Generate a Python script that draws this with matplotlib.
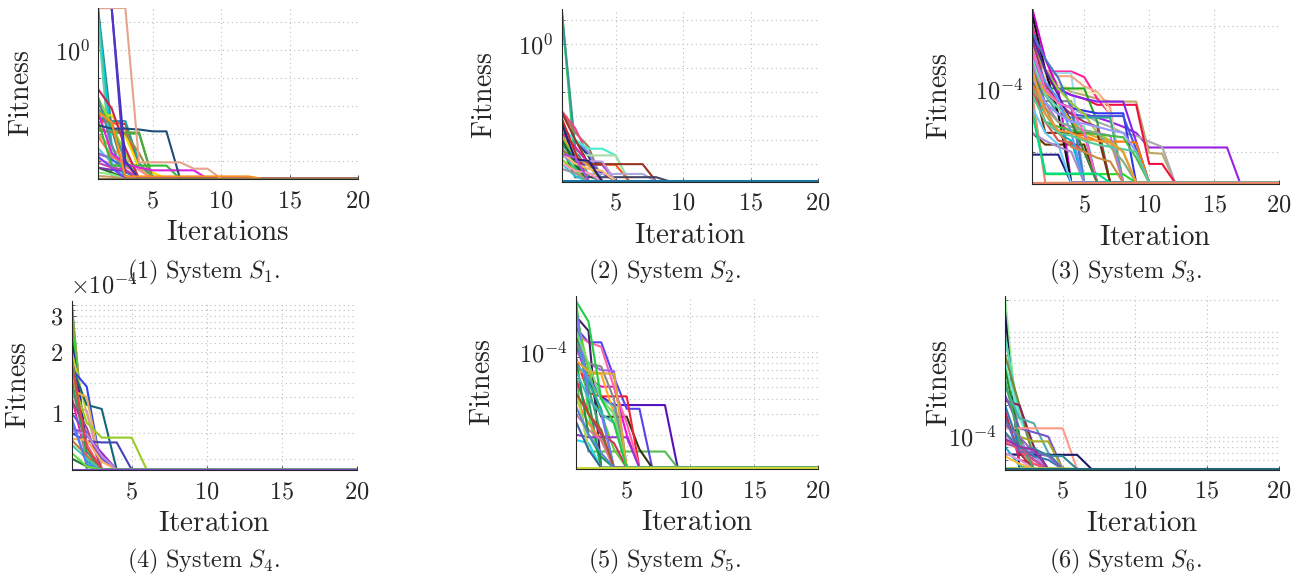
import matplotlib
matplotlib.use('Agg')
import matplotlib.pyplot as plt
from matplotlib.ticker import FixedLocator, FixedFormatter, NullFormatter

plt.rcParams['mathtext.fontset'] = 'cm'
plt.rcParams['font.family'] = ['DejaVu Serif']

# ---------------- data ----------------
iterations = list(range(1, 21))
x_ticks = [5, 10, 15, 20]
x_tick_labels = [r'$5$', r'$10$', r'$15$', r'$20$']

# System S1
F1 = 2.4e-5
s1_traces = [
    [30, 6e-5, F1], [25, 2e-4, 4e-5, F1], [32, 1.5e-3, 3e-5, F1], [20, 4e-4, F1],
    [12, 3e-5, F1], [0.012, 2.5e-3, 1e-4, F1], [3.5e-3, 2.5e-3, 2.2e-3, 6e-5, F1],
    [2.6e-3, 2.6e-3, 1.5e-3, 5e-5, F1], [4.5e-3, 4.5e-3, 8e-4, 6e-5, 4e-5, F1],
    [4e-3, 2.8e-3, 2.8e-3, 9e-5, F1], [1.3e-3, 1.1e-3, 1.1e-3, 1.1e-3, F1],
    [0.018, 1.5e-3, 1.0e-3, 1.0e-3, F1], [1.5e-3, 1.1e-3, 1.0e-3, 2e-4, F1],
    [2e-4, 1.2e-4, 5e-5, F1], [1.2e-4, 8e-5, 6e-5, 5e-5, F1], [3e-4, 9e-5, F1],
    [1.8e-4, 1.4e-4, 1.1e-4, F1], [6e-5, 4e-5, F1], [0.02, 2e-3, 2e-4, F1],
    [1e-3, 3e-4, 1.2e-4, 6e-5, F1], [6e-5, 5e-5, 4.5e-5, F1], [0.02, 4e-4, F1],
    [0.04, 8e-3, 3e-4, F1], [8e-3, 2e-3, 1e-4, F1], [4e-5, 3.5e-5, F1],
    [1.5e-4, 6e-5, F1], [3e-5, 2.8e-5, F1], [8e-4, 1.5e-4, 8e-5, F1],
    [9e-5, 6e-5, 5e-5, F1], [3e-3, 7.1e-5, 7.1e-5, 7.1e-5, 7.1e-5, 7.1e-5, F1],
    [6e-3, 2e-4, 8e-5, 6e-5, 4.8e-5, 4.8e-5, 4.8e-5, 4.8e-5, F1],
    [2e-3, 1.5e-3, 1.5e-3, 1.4e-3, 1.2e-3, 1.2e-3, F1],
    [32, 32, 1e-4, F1], [32, 32, F1],
    [32, 32, 32, 9.3e-5, 9.3e-5, 9.3e-5, 9.3e-5, 5.5e-5, 5.5e-5, F1],
    [6e-3, 2.5e-3, 2.9e-5, 2.9e-5, 2.9e-5, 2.9e-5, 2.9e-5, 2.9e-5, 2.9e-5, 2.9e-5, 2.9e-5, 2.9e-5, F1],
    [F1],
]
s1_colors = [
    '#7F7F7F', '#3FBFBF', '#2E8B8B', '#00CED1', '#66CDAA', '#AA2255', '#DD3322',
    '#EE6633', '#EEE000', '#20A0A0', '#77A030', '#44AA44', '#998844', '#3366EE',
    '#FF88AA', '#66BBEE', '#9966DD', '#226622', '#99DD33', '#DDAA55', '#7733AA',
    '#5588AA', '#CC2255', '#44AA77', '#88EE88', '#6644FF', '#CC9966', '#FF7755',
    '#BB44BB', '#33BB33', '#DD22DD', '#1F4E79', '#3333AA', '#5533CC', '#E6A48C',
    '#FF8C1A', '#8A7D45',
]

# System S2
F2 = 1.8e-6
s2_traces = [
    [30, 2e-5, F2], [28, 8e-6, F2], [25, 5e-5, 3e-6, F2], [1.4e-3, 2e-4, 5e-5, F2],
    [1.6e-3, 3e-4, 2e-5, F2], [4.8e-4, 1.2e-5, 1.15e-5, 1.15e-5, F2],
    [2.9e-4, 1e-4, 2e-5, F2], [3e-4, 1e-4, 3e-5, F2], [3e-5, 1e-5, 9e-6, 9e-6, F2],
    [4e-5, 1.2e-5, 1e-5, 4e-6, F2], [3e-4, 1e-4, 4.2e-5, 4.2e-5, 2.2e-5, F2],
    [1e-4, 3e-5, 2.2e-5, 2.2e-5, 2.2e-5, F2], [6e-5, 2e-5, 1e-5, 9e-6, 9e-6, F2],
    [1.4e-3, 1e-4, 9.5e-6, 9.5e-6, 9.5e-6, 9.5e-6, 9.5e-6, F2],
    [8e-5, 1e-5, 3.7e-6, 3.7e-6, 3.7e-6, 3.7e-6, 3.7e-6, F2],
    [5e-5, 2.7e-6, 2.7e-6, 2.7e-6, 2.7e-6, 2.7e-6, 2.7e-6, 2.7e-6, F2],
    [2e-4, 8e-6, F2], [1e-4, 2e-5, F2], [3e-5, 6e-6, F2], [1.5e-5, 5e-6, F2],
    [2e-4, 5e-5, 1e-5, F2], [6e-5, 2e-5, F2], [1.5e-4, 2e-5, 8e-6, F2],
    [8e-4, 3e-5, F2], [1e-5, 3e-6, F2], [4e-5, 1.5e-5, 1.2e-5, F2],
    [2e-5, 1.4e-5, 1.3e-5, 1.2e-5, F2], [1e-4, 1e-5, F2],
    [3e-5, 1e-5, 6e-6, 5e-6, F2], [6e-6, 4e-6, F2], [1e-5, 5e-6, 4e-6, F2],
    [5e-4, 1.5e-5, 1.3e-5, F2], [2.5e-5, 1.8e-5, F2], [F2],
]
s2_colors = [
    '#BBDD33', '#33CC66', '#339999', '#AA7755', '#EE4488', '#1A1A55', '#223388',
    '#7799EE', '#9933CC', '#6633CC', '#44EECC', '#AADDAA', '#FF5511', '#993322',
    '#AAAADD', '#444466', '#22AA22', '#66BB44', '#44BB88', '#88CC22', '#DD22AA',
    '#2299AA', '#CCAA33', '#CC2222', '#22CCDD', '#888833', '#BB99DD', '#116633',
    '#FFBB66', '#999999', '#FF99BB', '#222277', '#AA55DD', '#1F77A4',
]

# System S3
F3 = 3.2e-6
s3_traces = [
    [1.2e-4, 8e-5, 6e-5, 5e-5, 4e-5, 3.5e-5, 3e-5, 2.5e-5, 2e-5, 1.17e-5, 1.17e-5, 1.17e-5, 1.17e-5, 1.17e-5, 1.17e-5, 1.17e-5, F3],
    [3e-4, 2e-4, 1.2e-4, 9e-5, 8e-5, 7e-5, 6.3e-5, 6.3e-5, 6.3e-5, 9.6e-6, 9.3e-6, F3],
    [2e-4, 1e-4, 6e-5, 5e-5, 4e-5, 3e-5, 2.5e-5, 2e-5, 1.8e-5, 1.45e-5, 1.2e-5, F3],
    [2.5e-4, 1.5e-4, 1e-4, 8e-5, 7e-5, 5.6e-5, 5.6e-5, 5.6e-5, 5.6e-5, 6.4e-6, 6.4e-6, F3],
    [1e-3, 1.9e-4, 1.9e-4, 1.9e-4, 1.55e-4, 7e-5, 4e-5, F3],
    [7e-4, 1.8e-4, 1.8e-4, 1.8e-4, F3],
    [4e-4, 2e-4, 1.6e-4, 1.6e-4, 1.1e-4, 9e-5, 5e-5, F3],
    [3e-4, 1.5e-4, 1.2e-4, 1e-4, 9e-5, 8.5e-5, 4e-5, F3],
    [1.5e-4, 1.02e-4, 1.02e-4, 1.02e-4, 1.02e-4, 3e-5, F3],
    [5e-4, 2e-4, 1e-4, 8e-5, 7e-5, 6.3e-5, 6.3e-5, 6.3e-5, 1.45e-5, F3],
    [3e-4, 1e-4, 6e-5, 5e-5, 4.5e-5, 4.1e-5, 4.1e-5, 4.1e-5, F3],
    [4e-4, 1e-4, 5e-5, 4e-5, 3.7e-5, 3.7e-5, 3.7e-5, 3.7e-5, 1.1e-5, F3],
    [2e-4, 8e-5, 4e-5, 3.5e-5, 3.5e-5, 3.5e-5, 3.5e-5, F3],
    [1.5e-4, 5e-5, 3e-5, 2e-5, 1.8e-5, 1.5e-5, 1.45e-5, 1.45e-5, 1.4e-5, F3],
    [2e-5, 1.3e-5, 1.3e-5, 1.3e-5, 1.3e-5, F3],
    [6e-5, 4.4e-6, 4.4e-6, 4.4e-6, 4.4e-6, 4.4e-6, 4.4e-6, 4.4e-6, F3],
    [9e-6, 9e-6, 9e-6, F3],
    [6.4e-5, 6.4e-5, 6.4e-5, 6.4e-5, F3],
    [8e-5, F3],
    [1.9e-3, 3e-4, 1e-4, F3],
    [1.5e-3, 2e-4, 4e-5, F3],
    [8e-4, 3e-4, 1.5e-4, 5e-5, F3],
    [5e-4, 2e-4, 1e-4, 6e-5, 4e-5, 2e-5, 1.5e-5, 1e-5, F3],
    [3e-4, 8e-5, 5e-5, 3e-5, 2.5e-5, F3],
    [6e-4, 1.2e-4, 6e-5, 4e-5, 3e-5, 2.5e-5, F3],
    [7e-4, 2e-4, 8e-5, 3e-5, 2e-5, F3],
    [2e-4, 9e-5, 6e-5, 3e-5, 2e-5, 1.7e-5, 1.5e-5, F3],
    [1e-4, 4e-5, 2e-5, 1.5e-5, F3],
    [1.5e-4, 2e-5, 2e-5, 2e-5, 2e-5, 2e-5, F3],
    [2.5e-4, 6e-5, 3e-5, 2.5e-5, 2.2e-5, 2e-5, 1.8e-5, F3],
    [9e-5, 3e-5, 2.5e-5, 2.2e-5, 2e-5, 1.9e-5, 1.8e-5, 1.7e-5, 8e-6, F3],
    [1e-4, 3e-5, 1.5e-5, 1.4e-5, 1e-5, F3],
    [3.5e-4, 1.3e-4, 7e-5, 2e-5, F3],
    [1e-4, 5e-5, 3e-5, 2.5e-5, 2.2e-5, 2e-5, 1.2e-5, 7e-6, F3],
    [4e-4, 1e-4, 6e-5, 5e-5, 2e-5, F3],
    [2e-4, 6e-5, 4e-5, 3e-5, 1e-5, F3],
    [1.2e-4, 5e-5, 2e-5, 1.2e-5, 1e-5, 8e-6, 7e-6, F3],
    [5e-5, 2e-5, 1.3e-5, F3],
    [2e-5, 1.5e-5, 1.2e-5, 1e-5, F3],
    [4e-5, 4.5e-6, 4.5e-6, 4.5e-6, 4.5e-6, 4.5e-6, F3],
    [1.5e-4, 6e-5, 4e-5, 3e-5, 2.8e-5, 2.5e-5, 2.2e-5, 2e-5, 1e-5, F3],
    [8e-5, 3e-5, 2e-5, 1.8e-5, 1.5e-5, 1.3e-5, 1.2e-5, 1.1e-5, 1e-5, F3],
    [2e-4, 4e-5, 2.2e-5, 2e-5, 1.6e-5, 1.5e-5, 1.4e-5, 1e-5, F3],
    [F3],
]
s3_colors = [
    '#9922DD', '#BBAA66', '#AAAAAA', '#EE1144', '#FF2299', '#A0D8EF', '#F4A582',
    '#EEE8AA', '#22AA22', '#8822EE', '#3333EE', '#4455DD', '#33AA99', '#FF7700',
    '#663300', '#22DD22', '#222288', '#778899', '#E8886A', '#CC00CC', '#111111',
    '#4477CC', '#99CC33', '#66DDAA', '#AA3366', '#5522AA', '#DDAA22', '#00BBBB',
    '#773311', '#BB77DD', '#44BB44', '#E05050', '#5599FF', '#88AA88', '#FF66CC',
    '#338833', '#CC8844', '#66CCFF', '#AA88CC', '#00DD88', '#9999FF', '#55CC99',
    '#EE9933', '#E8886A',
]

# System S4
F4 = 5.3e-5
s4_traces = [
    [3.5e-4, F4], [3.3e-4, 6e-5, F4], [2.8e-4, 5.6e-5, F4], [2.3e-4, 7e-5, F4],
    [2.1e-4, 6e-5, F4], [2e-4, 1e-4, F4], [1.65e-4, 1.35e-4, F4],
    [1.7e-4, 1.1e-4, 1.05e-4, F4], [1.3e-4, 1.2e-4, F4], [1.1e-4, 1.03e-4, F4],
    [8.5e-5, 7.8e-5, 6.4e-5, F4], [7e-5, 6.5e-5, 6e-5, F4],
    [8e-5, 7.3e-5, 7.2e-5, 7.2e-5, F4], [1.5e-4, 9e-5, 7.6e-5, 7.6e-5, 7.6e-5, F4],
    [1.2e-4, 6e-5, F4], [9e-5, 5.8e-5, F4], [1.35e-4, 7e-5, F4], [1.9e-4, 5.5e-5, F4],
    [1e-4, 8e-5, 6e-5, F4], [7.4e-5, 6.2e-5, F4], [1.45e-4, 6.5e-5, F4],
    [1.15e-4, 8.5e-5, F4], [7e-5, 6e-5, F4], [7.5e-5, 7.4e-5, 5.8e-5, F4],
    [6e-5, 5.5e-5, F4], [8.2e-5, 7.9e-5, 6.2e-5, F4], [1.75e-4, 6.8e-5, F4],
    [9.5e-5, 5.6e-5, F4], [6.4e-5, 5.5e-5, F4], [F4],
]
s4_colors = [
    '#669966', '#88AA44', '#22DD22', '#222299', '#DD1155', '#CCCC33', '#3344EE',
    '#116677', '#E8B050', '#DD99AA', '#9922CC', '#CCFFDD', '#4444BB', '#99CC22',
    '#EE22AA', '#3399CC', '#FF6699', '#55BB55', '#6655DD', '#CC7733', '#339966',
    '#AA4488', '#44CCAA', '#FFAA55', '#227744', '#BB88DD', '#DD4444', '#5577FF',
    '#66DD33', '#7744CC',
]

# System S5
F5 = 1.05e-5
s5_traces = [
    [1.2e-4, 6e-5, 4.2e-5, 3.55e-5, 3.55e-5, 3.55e-5, 3.55e-5, 3.55e-5, F5],
    [6e-5, 1.44e-5, 1.44e-5, 1.44e-5, 1.44e-5, 1.44e-5, 1.44e-5, 1.44e-5, F5],
    [1.6e-4, 1.2e-4, 1.2e-4, 6.1e-5, 3.3e-5, 3.3e-5, F5],
    [1.4e-4, 6e-5, 2.83e-5, 2.83e-5, 2.83e-5, 1.5e-5, F5],
    [9e-5, 4.5e-5, 4.2e-5, 4.2e-5, 4.2e-5, F5],
    [1.1e-4, 6e-5, 5.07e-5, 5.07e-5, 2e-5, F5],
    [1.4e-4, 1.2e-4, 1.1e-4, 5e-5, 2.5e-5, F5],
    [1e-4, 8e-5, 7e-5, 6.9e-5, F5],
    [7e-5, 6.5e-5, 6.5e-5, 3e-5, F5],
    [1.8e-5, 1.7e-5, F5],
    [2e-4, 1.5e-4, F5],
    [2.95e-4, 3e-5, F5],
    [2.5e-4, 5e-5, 2e-5, F5],
    [2.2e-4, 7e-5, 3e-5, 1.5e-5, F5],
    [1.8e-4, 4e-5, F5],
    [1.3e-4, 5.5e-5, 3.3e-5, F5],
    [4e-5, 2.5e-5, 1.8e-5, F5],
    [2e-5, 1.9e-5, 1.9e-5, 1.9e-5, 1.9e-5, F5],
    [6e-5, 3e-5, 2e-5, 1.7e-5, F5],
    [8e-5, 6e-5, 4e-5, 3.5e-5, F5],
    [1.2e-4, 8e-5, 7.5e-5, 4e-5, F5],
    [5e-5, 1.5e-5, F5],
    [2.5e-4, 4e-5, 3e-5, F5],
    [3e-5, 2.2e-5, 1.8e-5, F5],
    [9e-5, 2e-5, 1.3e-5, F5],
    [7e-5, 4e-5, 3e-5, 2.5e-5, F5],
    [4.5e-5, 3e-5, 2.2e-5, F5],
    [2.6e-5, 1.5e-5, F5],
    [1.5e-4, 8e-5, 4e-5, 3e-5, F5],
    [8.5e-5, 6.8e-5, 6.6e-5, 6.5e-5, F5],
    [3.5e-5, 2e-5, 1.4e-5, F5],
    [2.7e-4, 1.8e-4, 4e-5, 2.5e-5, F5],
    [F5],
]
s5_colors = [
    '#5511BB', '#55BB55', '#5544EE', '#333311', '#EE2233', '#EE11DD', '#FF66AA',
    '#AA66EE', '#FFAA22', '#22DDEE', '#442266', '#44DD44', '#33AA66', '#66CC33',
    '#229966', '#22AAAA', '#FF8833', '#9933CC', '#CC3366', '#55AACC', '#888888',
    '#BBDD55', '#7777FF', '#DD7799', '#119944', '#44BBBB', '#AA5522', '#3366AA',
    '#77DD77', '#DDAA33', '#5588DD', '#22CC44', '#CCDD33',
]

# System S6
F6 = 4.9e-5
s6_traces = [
    [2.2e-3, 8e-5, F6], [1.55e-3, F6], [1e-3, 1e-4, F6], [9e-4, 1.6e-4, 7e-5, F6],
    [5e-4, 1.5e-4, 8e-5, F6], [6e-4, 2e-4, 6e-5, F6], [4.5e-4, 1e-4, F6],
    [2.2e-4, 2e-4, 8e-5, F6], [3e-4, 1.5e-4, 1.34e-4, 7e-5, F6],
    [2.5e-4, 1.2e-4, 1.1e-4, 1e-4, F6], [1.2e-4, 1.2e-4, 1.2e-4, 1.2e-4, 1.2e-4, F6],
    [1.4e-4, 1e-4, 9e-5, 9e-5, F6], [6.8e-5, 6.7e-5, 6.7e-5, 6.7e-5, 6.7e-5, 6.7e-5, F6],
    [1.8e-4, 6e-5, 5.5e-5, F6], [1.1e-4, 7e-5, 6e-5, F6], [1e-4, 9e-5, 6.5e-5, F6],
    [9e-5, 7.5e-5, 5.5e-5, 5e-5, F6], [2e-4, 8e-5, 6.5e-5, 6e-5, F6],
    [1.3e-4, 1e-4, 7e-5, 6.5e-5, F6], [8e-5, 5.3e-5, F6], [1.6e-4, 7e-5, F6],
    [7e-5, 6e-5, F6], [1.5e-4, 7.2e-5, 7e-5, 6.8e-5, F6], [3.5e-4, 9e-5, F6],
    [8.5e-5, 8e-5, 6e-5, F6], [6.5e-5, 5.5e-5, F6],
    [1.1e-4, 7.8e-5, 7.7e-5, 6.6e-5, 6.5e-5, F6], [9.5e-5, 8e-5, 7.5e-5, F6],
    [5e-5, 5e-5, 5e-5, 5e-5, 5e-5, F6], [F6],
]
s6_colors = [
    '#99EE99', '#111144', '#999999', '#55DDBB', '#66EEDD', '#778833', '#228822',
    '#882255', '#55AAAA', '#7755CC', '#FF9988', '#AAAA22', '#1A1A66', '#DD2266',
    '#EE44CC', '#CC88EE', '#FF5577', '#3377BB', '#9966CC', '#22AACC', '#AA3333',
    '#DD99DD', '#6666BB', '#44AA66', '#BB5599', '#FFBB33', '#338899', '#9933AA',
    '#BBCC44', '#22667A',
]

captions = [r'$\mathrm{(1)\ System\ }S_{1}\mathrm{.}$', r'$\mathrm{(2)\ System\ }S_{2}\mathrm{.}$',
            r'$\mathrm{(3)\ System\ }S_{3}\mathrm{.}$', r'$\mathrm{(4)\ System\ }S_{4}\mathrm{.}$',
            r'$\mathrm{(5)\ System\ }S_{5}\mathrm{.}$', r'$\mathrm{(6)\ System\ }S_{6}\mathrm{.}$']
xlabels = [r'$\mathrm{Iterations}$'] + [r'$\mathrm{Iteration}$'] * 5

# ---------------- layout ----------------
W, H = 1306, 574
fig = plt.figure(figsize=(W / 100, H / 100), dpi=100)
TXT = '#262626'

panels = [
    dict(box=(98, 8, 358, 179.5), traces=s1_traces, colors=s1_colors, floor=F1,
         ylim=(2.25e-5, 32), major=[1.0], labels=[r'$10^{0}$'],
         minor=[10, 0.1, 0.01, 1e-3, 1e-4], ylab=35),
    dict(box=(561.7, 8.7, 818, 182), traces=s2_traces, colors=s2_colors, floor=F2,
         ylim=(1.7e-6, 30), major=[1.0], labels=[r'$10^{0}$'],
         minor=[10, 0.1, 0.01, 1e-3, 1e-4, 1e-5], ylab=498),
    dict(box=(1032.3, 8.7, 1279, 183.7), traces=s3_traces, colors=s3_colors, floor=F3,
         ylim=(3.1e-6, 1.9e-3), major=[1e-4], labels=[r'$10^{-4}$'],
         minor=[1e-3, 1e-5], ylab=953),
    dict(box=(71.7, 301.3, 356.7, 470.3), traces=s4_traces, colors=s4_colors, floor=F4,
         ylim=(5.26e-5, 3.53e-4), major=[1e-4, 2e-4, 3e-4], labels=[r'$1$', r'$2$', r'$3$'],
         minor=[0.6e-4, 0.8e-4, 1.2e-4, 1.4e-4, 1.6e-4, 1.8e-4, 2.2e-4, 2.4e-4, 2.6e-4,
                2.8e-4, 3.2e-4, 3.4e-4], ylab=31.7),
    dict(box=(575.7, 296, 818, 469.3), traces=s5_traces, colors=s5_colors, floor=F5,
         ylim=(1.02e-5, 2.95e-4), major=[1e-4], labels=[r'$10^{-4}$'],
         minor=[2e-5, 3e-5, 4e-5, 5e-5, 6e-5, 7e-5, 8e-5, 9e-5, 2e-4], ylab=496),
    dict(box=(1005, 296, 1279, 470), traces=s6_traces, colors=s6_colors, floor=F6,
         ylim=(4.8e-5, 2.2e-3), major=[1e-4], labels=[r'$10^{-4}$'],
         minor=[5e-5, 6e-5, 7e-5, 8e-5, 9e-5, 2e-4, 3e-4, 4e-4, 5e-4, 6e-4, 7e-4,
                8e-4, 9e-4, 1e-3, 2e-3], ylab=953.3),
]

for i, p in enumerate(panels):
    l, t, r, b = p['box']
    wpx, hpx = r - l, b - t
    ax = fig.add_axes([l / W, 1 - b / H, wpx / W, hpx / H])
    n = len(iterations)
    for tr, c in zip(p['traces'], p['colors']):
        yv = tr + [p['floor']] * (n - len(tr))
        ax.plot(iterations, yv, color=c, lw=1.5)
    ax.set_yscale('log')
    ax.set_xlim(1, 20)
    ax.set_ylim(*p['ylim'])
    ax.xaxis.set_major_locator(FixedLocator(x_ticks))
    ax.xaxis.set_major_formatter(FixedFormatter(x_tick_labels))
    ax.yaxis.set_major_locator(FixedLocator(p['major']))
    ax.yaxis.set_major_formatter(FixedFormatter(p['labels']))
    ax.yaxis.set_minor_locator(FixedLocator(p['minor']))
    ax.yaxis.set_minor_formatter(NullFormatter())
    ax.set_axisbelow(True)
    ax.grid(True, which='both', axis='both', linestyle=(0, (1, 3)), color='#BDBDBD', lw=0.8)
    for s in ['top', 'right']:
        ax.spines[s].set_visible(False)
    for s in ['left', 'bottom']:
        ax.spines[s].set_color(TXT)
        ax.spines[s].set_linewidth(0.8)
    ax.tick_params(which='major', direction='in', length=3, width=0.6, colors=TXT,
                   labelsize=17.5, labelcolor=TXT, top=False, right=False)
    ax.tick_params(which='minor', direction='in', length=1.8, width=0.5, colors=TXT,
                   top=False, right=False)
    ax.tick_params(axis='x', pad=7)
    ax.tick_params(axis='y', pad=6)
    ax.set_xlabel(xlabels[i], fontsize=21, color=TXT)
    ax.xaxis.set_label_coords(0.5, -39 / hpx)
    ax.set_ylabel(r'$\mathrm{Fitness}$', fontsize=20, color=TXT)
    ax.yaxis.set_label_coords((p['ylab'] - l) / wpx, 0.5)

cap_x = [204, 665, 1126, 204, 665, 1126]
cap_y = [272, 272, 272, 561, 561, 561]
for cx, cy, ct in zip(cap_x, cap_y, captions):
    fig.text(cx / W, 1 - cy / H, ct, ha='center', va='center', fontsize=17.5, color=TXT)

fig.text(70 / W, 1 - 286 / H, r'$\times 10^{-4}$', ha='left', va='center', fontsize=17.5,
         color=TXT)

fig.savefig('out.png', dpi=100)
